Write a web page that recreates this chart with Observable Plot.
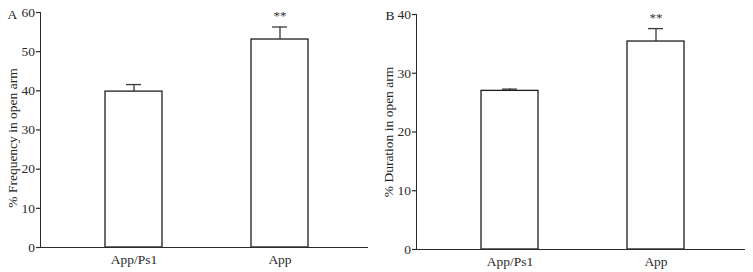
<!DOCTYPE html>
<html>
<head>
<meta charset="utf-8">
<script src="https://cdn.jsdelivr.net/npm/d3@7"></script>
<script src="https://cdn.jsdelivr.net/npm/@observablehq/plot@0.6"></script>
<style>
  body { margin: 0; background: #fff; }
  #wrap { display: flex; width: 753px; height: 272px; }
  #wrap svg { font-family: 'Liberation Serif', 'Times New Roman', serif !important; }
  #wrap svg g[aria-label="y-axis tick"] path,
  #wrap svg g[aria-label="y-axis line"] line,
  #wrap svg g[aria-label="y-axis line"] path { stroke-width: 1.2; }
</style>
</head>
<body>
<div id="wrap"></div>
<script>
const groups = ["App/Ps1", "App"];
const freqMean = [39.8, 53.1];
const freqErr = [1.8, 3.2];
const durMean = [27.0, 35.4];
const durErr = [0.3, 2.2];
const sigMarks = ["", "**"];
const freqTicks = [0, 10, 20, 30, 40, 50, 60];
const durTicks = [0, 10, 20, 30, 40];

function panel({letter, ylabel, means, errs, ticks, ymax, width, marginTop, marginBottom, labelDy, letterDx, letterDy}) {
  const data = groups.map((g, i) => ({g, v: means[i], e: errs[i], top: means[i] + errs[i], s: sigMarks[i]}));
  return Plot.plot({
    width, height: 272,
    marginLeft: 40, marginRight: 8, marginTop, marginBottom,
    style: {fontFamily: "'Liberation Serif', serif", fontSize: "13.5px", color: "#2a2a2a", background: "#fff"},
    x: {domain: groups, range: [105, 308.5], paddingInner: 0.611, paddingOuter: 0, label: null, tickSize: 0, tickPadding: 7},
    y: {domain: [0, ymax], ticks, label: null, tickSize: 4, tickPadding: 1.5, line: true, tickFormat: d3.format("d")},
    marks: [
      Plot.ruleX(data, {x: "g", y1: "v", y2: "top", stroke: "#3a3a3a", strokeWidth: 1.3}),
      Plot.tickY(data, {x: "g", y: "top", stroke: "#3a3a3a", strokeWidth: 1.3, insetLeft: 21, insetRight: 21}),
      Plot.barY(data, {x: "g", y: "v", fill: "#fff", stroke: "#1e1e1e", strokeWidth: 1.3}),
      Plot.ruleY([0], {stroke: "#2a2a2a", strokeWidth: 1.2}),
      Plot.text(data, {x: "g", y: "top", text: "s", dy: -7, lineAnchor: "bottom", fill: "#333", fontSize: 13}),
      Plot.text([ylabel], {frameAnchor: "left", textAnchor: "middle", rotate: -90, dx: -28, dy: labelDy, fill: "#222", fontSize: 13.5}),
      Plot.text([letter], {frameAnchor: "top-left", textAnchor: "start", lineAnchor: "top", dx: letterDx, dy: letterDy, fill: "#222", fontSize: 13.5})
    ]
  });
}

const a = panel({letter: "A", ylabel: "% Frequency in open arm", means: freqMean, errs: freqErr, ticks: freqTicks, ymax: 60, width: 376, marginTop: 12, marginBottom: 25, labelDy: 8, letterDx: -33, letterDy: -3});
const b = panel({letter: "B", ylabel: "% Duration in open arm", means: durMean, errs: durErr, ticks: durTicks, ymax: 40, width: 377, marginTop: 14, marginBottom: 23, labelDy: 0, letterDx: -31, letterDy: -4});

document.getElementById("wrap").append(a, b);
</script>
</body>
</html>
